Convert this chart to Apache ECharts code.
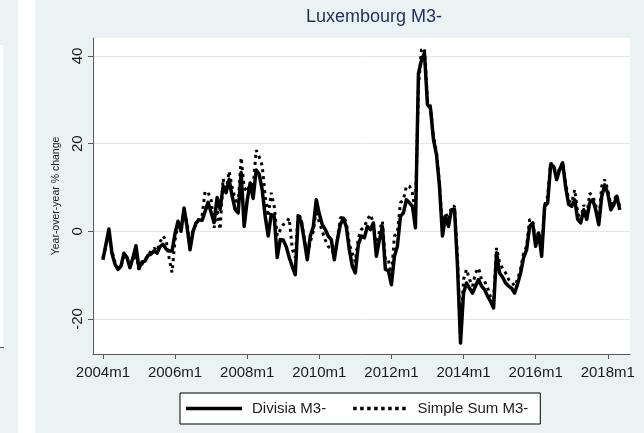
<!DOCTYPE html>
<html>
<head>
<meta charset="utf-8">
<title>Luxembourg M3-</title>
<script src="https://cdn.jsdelivr.net/npm/echarts@6/dist/echarts.min.js"></script>
<style>
    html, body { margin: 0; padding: 0; background: #ffffff; }
    #chart { width: 644px; height: 433px; }
</style>
</head>
<body>
<div id="chart"></div>
<script>
    // months since 2004m1, one value per month up to 2018m5
    var divisia = [
        -6.5, -3, 0.5, -5, -7.5, -8.7, -8, -5, -6, -8.3, -6, -3.3,
        -8.5, -7, -6.8, -5.5, -5.2, -4.5, -5, -3.5, -3, -4, -4.5, -4.5,
        -0.5, 2.3, 0, 5.3, 1, -4.2, 0, 1.9, 2.6, 2.5, 4.5, 6.6,
        4.3, 2, 7.7, 5, 10.3, 8.8, 11.8, 8, 5, 4.2, 13.4, 1.1,
        7, 11, 7.5, 14, 13, 9.5, 3.4, -1.1, 3.8, 3.4, -6, -1.9,
        -2, -3.5, -6, -8, -9.9, 3.4, 2.2, -2, -6.5, -1.1, 1, 7.2,
        4, 1.5, 0.4, -1.1, -1.9, -6.5, -2, 1.5, 3, 1, -4.2, -8,
        -9.5, -3, -1.1, -1.5, 1.1, 0.4, 1.9, -5.7, -2, 1.1, -8.7, -9,
        -12.2, -5.7, -3.4, 3.4, 4.2, 7.2, 6.5, 5.7, 0.8, 36, 39, 40.7,
        28.9, 28.1, 20.9, 17.5, 10.3, -1.1, 3.4, 1.1, 4.9, 5, -8, -25.5,
        -14.1, -11.8, -13, -14.1, -12.5, -11, -12.5, -13.3, -14.8, -16, -17.5, -4.9,
        -9.5, -10.5, -11.8, -12.5, -13, -14.1, -12, -9.5, -6, -4.2, 1.1, 1.9,
        -3.4, -0.4, -5.7, 5.7, 6.5, 15.2, 14.8, 11.8, 14.1, 15.6, 10, 6.1,
        5.7, 7.2, 2.7, 1.9, 4.9, 2.7, 6.5, 7.2, 4.9, 1.5, 8, 10.6,
        8.7, 4.9, 6, 8, 4.9
    ];
    var simpleSum = [
        -6, -3.5, 0, -4.5, -7, -8.5, -8, -5.5, -6, -7.5, -7, -5,
        -8.7, -7.5, -6.5, -5.5, -4.5, -3.8, -4.5, -2.5, -1.1, -2, -6, -9.4,
        -2, 1.5, 1, 4.5, 2, -3.5, 0.5, 1.5, 3, 3.5, 9.1, 8.8,
        7.2, 0.8, 5, 0.4, 12, 9, 13.7, 10, 7.5, 6, 16.8, 10,
        9, 11, 10, 18.5, 17, 15, 8, 3.4, 8.8, 5.7, -1, 0.3,
        1.5, 2, 3, -4, -6, 4.2, 2.7, -1.5, -5.5, -2.5, 0, 5,
        2, 0, -2, -3.5, -4, -5.5, -2, 3, 3.4, 2, -3, -5,
        -7, -1.5, 0.4, 1, 2.7, 3.8, 2, -4.2, 0, 2.3, -6.5, -6.5,
        -10.3, -1.1, -0.4, 6.5, 7.2, 10.3, 10.3, 8.7, 4.2, 33, 41.4, 41.8,
        30, 28.5, 21.5, 18, 11, 0, 4.2, 2.7, 5.7, 5.7, -6, -24,
        -11, -8.7, -11, -12.5, -9.5, -8.4, -11, -11.4, -12.9, -15, -15.6, -3.8,
        -7.2, -8.5, -9.5, -11, -11.5, -12.5, -11, -8.5, -5, -3.4, 2.7, 2.5,
        -2.5, 0, -4.5, 6, 8, 15.6, 15, 12.5, 14.5, 15.7, 11, 7,
        6.5, 9.5, 4.2, 2.5, 6, 3.5, 8.7, 8, 6, 2.5, 10.3, 11.8,
        9.5, 6, 7, 8.4, 5.5
    ];
    var xTicks = [0, 24, 48, 72, 96, 120, 144, 168];
    var xTickLabels = ['2004m1', '2006m1', '2008m1', '2010m1', '2012m1', '2014m1', '2016m1', '2018m1'];
    var yTicks = [-20, 0, 20, 40];

    var bg = '#EAF2F3';
    var gridColor = '#DFE9EB';
    var axisColor = '#5a5a5a';
    var font = 'Arial, Liberation Sans, sans-serif';

    // legend keys: a solid bar and a row of square dots
    var solidKey = 'path://M0,0H56V3.5H0Z';
    var dotKey = 'path://';
    for (var d = 0; d < 8; d++) {
        dotKey += 'M' + (d * 7) + ',0h3.5v3.5h-3.5Z';
    }

    function pairs(arr) {
        return arr.map(function (v, i) { return [i, v]; });
    }

    var chart = echarts.init(document.getElementById('chart'), null, {renderer: 'canvas'});

    var option = {
        backgroundColor: bg,
        animation: false,
        // sliver of the neighbouring graph on the left + white gap
        graphic: [
            {type: 'rect', shape: {x: 18, y: 0, width: 17, height: 433}, style: {fill: '#ffffff'}},
            {type: 'rect', shape: {x: 0, y: 45, width: 3, height: 302}, style: {fill: '#ffffff'}},
            {type: 'line', shape: {x1: 0, y1: 347.5, x2: 4, y2: 347.5}, style: {stroke: axisColor, lineWidth: 1}}
        ],
        title: {
            text: 'Luxembourg M3-',
            left: 369,
            top: 3,
            textAlign: 'center',
            textStyle: {
                color: '#1E2F5C',
                fontFamily: font,
                fontSize: 18,
                fontWeight: 'normal'
            }
        },
        grid: {
            left: 93,
            right: 14,
            top: 38,
            bottom: 79,
            show: true,
            backgroundColor: '#ffffff',
            borderWidth: 0
        },
        legend: {
            left: 180,
            top: 393,
            orient: 'horizontal',
            itemWidth: 56,
            itemHeight: 3.5,
            itemGap: 27,
            padding: [8, 12, 8, 6],
            backgroundColor: '#ffffff',
            borderColor: '#000000',
            borderWidth: 1,
            borderRadius: 0,
            textStyle: {
                color: '#1a1a1a',
                fontFamily: font,
                fontSize: 15,
                padding: [0, 0, 0, 5]
            },
            data: [
                {name: 'Divisia M3-', icon: solidKey},
                {name: 'Simple Sum M3-', icon: dotKey}
            ]
        },
        xAxis: {
            type: 'value',
            min: -3.3,
            max: 175.4,
            axisLine: {show: true, onZero: false, lineStyle: {color: axisColor, width: 1}},
            axisTick: {show: true, length: 5, customValues: xTicks, lineStyle: {color: axisColor}},
            axisLabel: {
                customValues: xTicks,
                margin: 11,
                color: '#1a1a1a',
                fontFamily: font,
                fontSize: 15,
                formatter: function (v) {
                    var k = xTicks.indexOf(v);
                    return k >= 0 ? xTickLabels[k] : '';
                }
            },
            splitLine: {show: false}
        },
        yAxis: {
            type: 'value',
            min: -28,
            max: 44.1,
            name: 'Year-over-year % change',
            nameLocation: 'middle',
            nameGap: 27,
            nameTextStyle: {
                color: '#1a1a1a',
                fontFamily: font,
                fontSize: 10.5
            },
            axisLine: {show: true, onZero: false, lineStyle: {color: axisColor, width: 1}},
            axisTick: {show: true, length: 5, customValues: yTicks, lineStyle: {color: axisColor}},
            axisLabel: {
                customValues: yTicks,
                rotate: 90,
                margin: 8,
                color: '#1a1a1a',
                fontFamily: font,
                fontSize: 15
            },
            splitLine: {show: true, lineStyle: {color: gridColor, width: 1}}
        },
        series: [
            {
                name: 'Divisia M3-',
                type: 'line',
                data: pairs(divisia),
                symbol: 'none',
                lineStyle: {color: '#000000', width: 3.5, join: 'round'},
                itemStyle: {color: '#000000'}
            },
            {
                name: 'Simple Sum M3-',
                type: 'line',
                data: pairs(simpleSum),
                symbol: 'none',
                lineStyle: {color: '#000000', width: 3, type: [3, 4], cap: 'butt'},
                itemStyle: {color: '#000000'}
            }
        ]
    };

    chart.setOption(option);
</script>
</body>
</html>
